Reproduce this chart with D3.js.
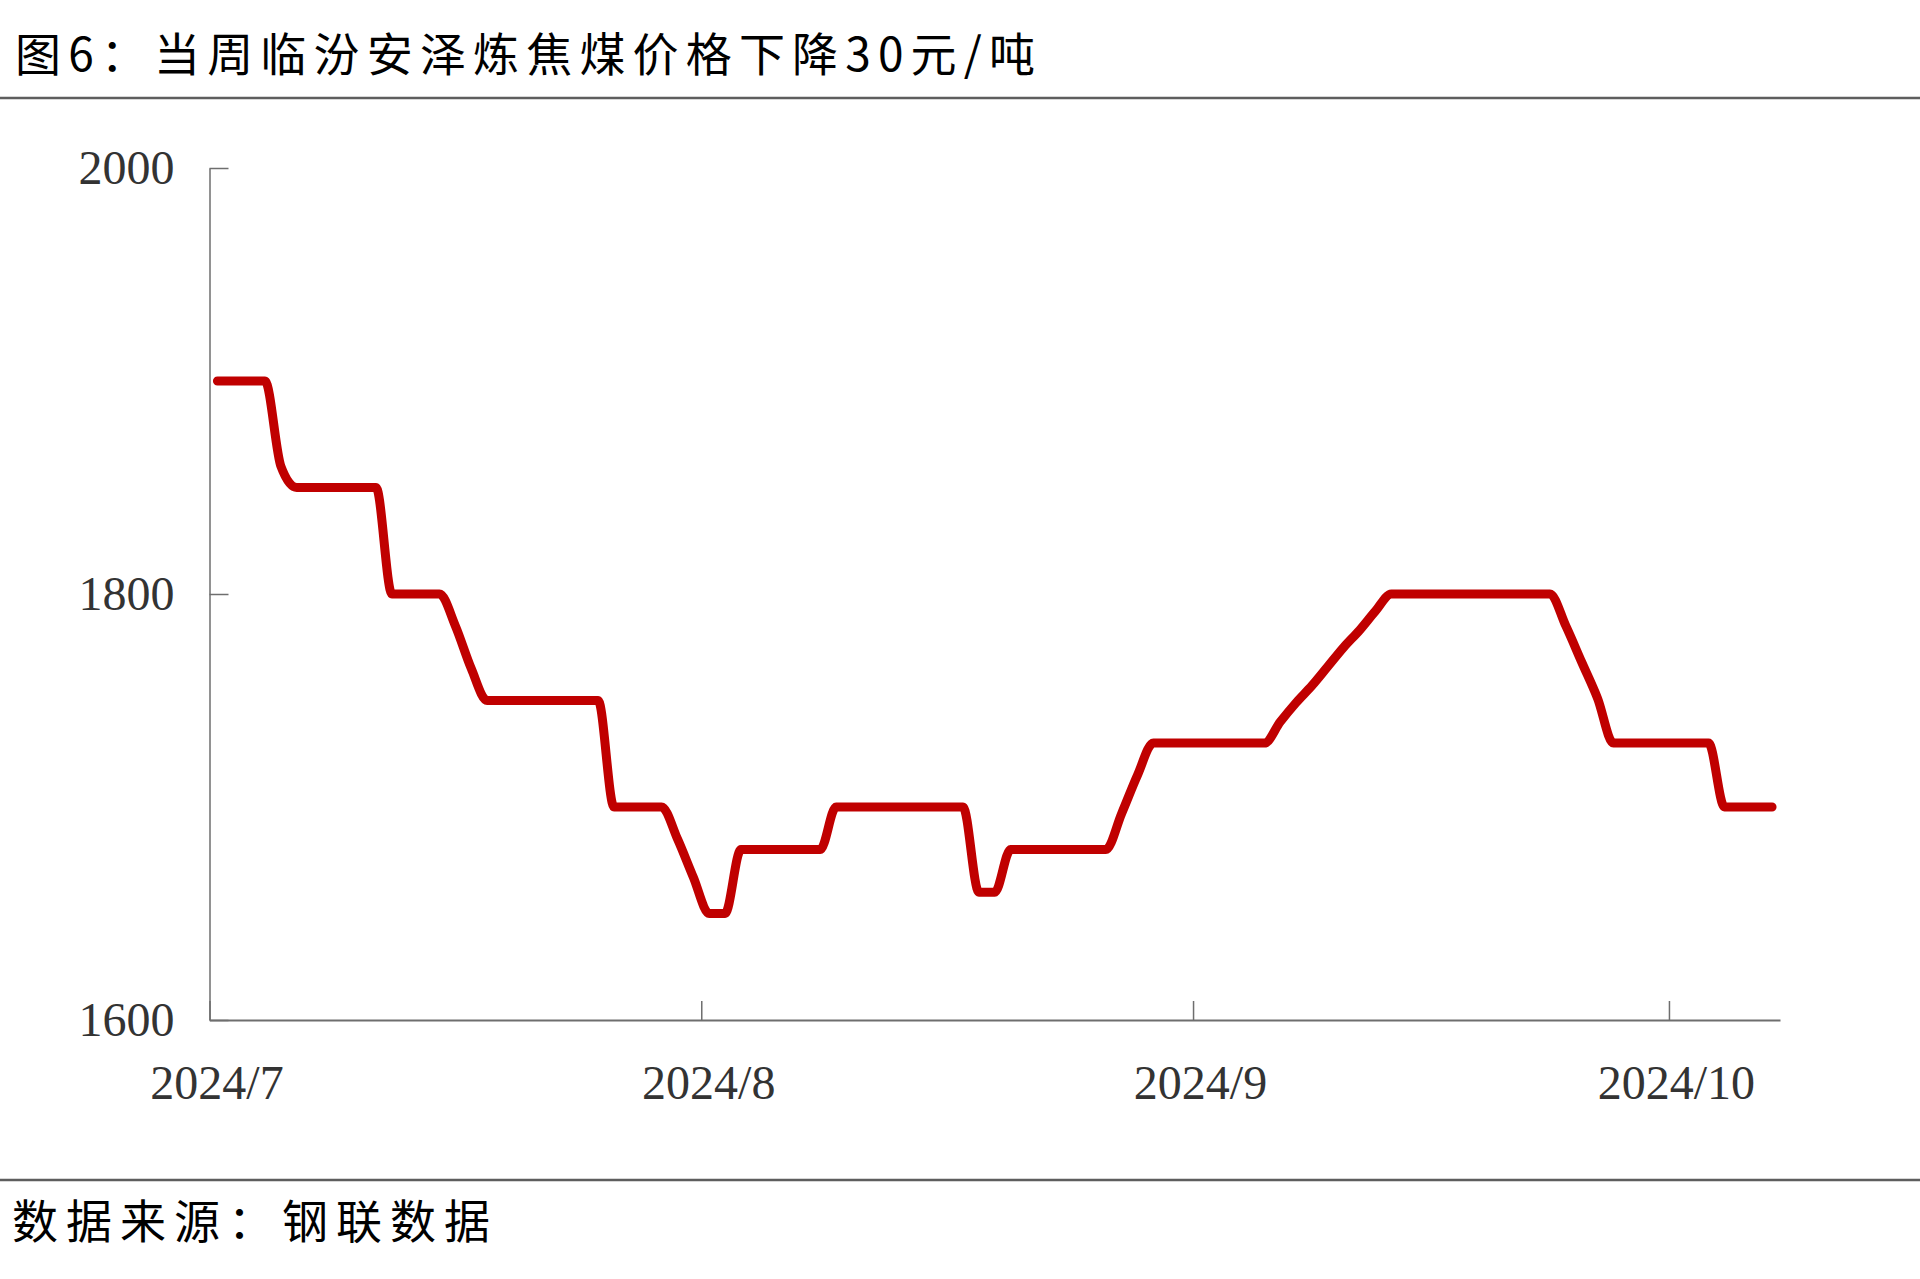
<!DOCTYPE html>
<html>
<head>
<meta charset="utf-8">
<script src="https://cdn.jsdelivr.net/npm/d3@7"></script>
<style>
  html, body { margin: 0; padding: 0; background: #fff; }
  svg { display: block; }
</style>
</head>
<body>
<svg id="chart" width="1920" height="1279"></svg>
<script>
// ---- data ----
const titleText = "图6：当周临汾安泽炼焦煤价格下降30元/吨";
const sourceText = "数据来源：钢联数据";
const startDate = "2024-07-01";           // first daily observation
const endDate = "2024-10-08";             // end of the date axis
// daily price readings (元/吨), Jul 1 .. Oct 7, 2024
const prices = [
  1900, 1900, 1900, 1900, 1860, 1850, 1850, 1850, 1850, 1850,   // Jul 1-10
  1850, 1800, 1800, 1800, 1800, 1785, 1765, 1750, 1750, 1750,   // Jul 11-20
  1750, 1750, 1750, 1750, 1750, 1700, 1700, 1700, 1700, 1685,   // Jul 21-30
  1667, 1650, 1650, 1680, 1680, 1680, 1680, 1680, 1680, 1700,   // Jul 31 - Aug 9
  1700, 1700, 1700, 1700, 1700, 1700, 1700, 1700, 1660, 1660,   // Aug 10-19
  1680, 1680, 1680, 1680, 1680, 1680, 1680, 1697, 1715, 1730,   // Aug 20-29
  1730, 1730, 1730, 1730, 1730, 1730, 1730, 1740, 1749, 1757,   // Aug 30 - Sep 8
  1766, 1775, 1783, 1792, 1800, 1800, 1800, 1800, 1800, 1800,   // Sep 9-18
  1800, 1800, 1800, 1800, 1800, 1785, 1768, 1751, 1730, 1730,   // Sep 19-28
  1730, 1730, 1730, 1730, 1730, 1700, 1700, 1700, 1700          // Sep 29 - Oct 7
];
const yTicks = [1600, 1800, 2000];
const xTickDates = ["2024-07-01", "2024-08-01", "2024-09-01", "2024-10-01"];

// ---- setup ----
const parse = d3.timeParse("%Y-%m-%d");
const t0 = parse(startDate);
const data = prices.map((v, i) => ({ date: d3.timeHour.offset(d3.timeDay.offset(t0, i), 12), value: v }));

const svg = d3.select("#chart");
svg.append("rect").attr("width", 1920).attr("height", 1279).attr("fill", "#fff");

const x = d3.scaleTime().domain([parse(startDate), parse(endDate)]).range([209.5, 1780]);
const y = d3.scaleLinear().domain([1600, 2000]).range([1020, 168]);

const axisColor = "#6e6e6e";
const labelColor = "#333333";

// title
svg.append("text")
  .attr("x", 15).attr("y", 51)
  .attr("dominant-baseline", "central")
  .attr("font-family", "'Noto Sans CJK SC', sans-serif")
  .attr("font-size", 46)
  .attr("fill", "#000")
  .attr("textLength", 1020)
  .attr("lengthAdjust", "spacing")
  .text(titleText);

// rules
svg.append("line").attr("x1", 0).attr("x2", 1920).attr("y1", 98).attr("y2", 98)
  .attr("stroke", "#5e5e5e").attr("stroke-width", 2.5);
svg.append("line").attr("x1", 0).attr("x2", 1920).attr("y1", 1180).attr("y2", 1180)
  .attr("stroke", "#5e5e5e").attr("stroke-width", 2.5);

// source
svg.append("text")
  .attr("x", 12).attr("y", 1218)
  .attr("dominant-baseline", "central")
  .attr("font-family", "'Noto Sans CJK SC', sans-serif")
  .attr("font-size", 46)
  .attr("fill", "#000")
  .attr("textLength", 478)
  .attr("lengthAdjust", "spacing")
  .text(sourceText);

// y axis
const yAxis = d3.axisLeft(y).tickValues(yTicks).tickSizeInner(-19).tickSizeOuter(0).tickPadding(35)
  .tickFormat(d3.format("d"));
const gy = svg.append("g").attr("transform", "translate(209.5,0)").call(yAxis);
gy.select(".domain").attr("stroke", axisColor).attr("stroke-width", 1.5);
gy.selectAll(".tick line").attr("stroke", axisColor).attr("stroke-width", 1.5);
gy.selectAll(".tick text")
  .attr("font-family", "'Liberation Serif', 'Times New Roman', serif")
  .attr("font-size", 48).attr("fill", labelColor);

// x axis
const xAxis = d3.axisBottom(x).tickValues(xTickDates.map(parse)).tickSizeInner(-19).tickSizeOuter(0)
  .tickFormat(d => `${d.getFullYear()}/${d.getMonth() + 1}`);
const gx = svg.append("g").attr("transform", "translate(0,1020)").call(xAxis);
gx.select(".domain").attr("stroke", axisColor).attr("stroke-width", 1.8);
gx.selectAll(".tick line").attr("stroke", axisColor).attr("stroke-width", 1.5);
gx.selectAll(".tick text")
  .attr("font-family", "'Liberation Serif', 'Times New Roman', serif")
  .attr("font-size", 48).attr("fill", labelColor)
  .attr("x", 7).attr("y", 64).attr("dy", "0.32em");

// line
const line = d3.line()
  .x(d => x(d.date))
  .y(d => y(d.value))
  .curve(d3.curveMonotoneX);
svg.append("path")
  .datum(data)
  .attr("d", line)
  .attr("fill", "none")
  .attr("stroke", "#C00000")
  .attr("stroke-width", 9)
  .attr("stroke-linecap", "round")
  .attr("stroke-linejoin", "round");
</script>
</body>
</html>
